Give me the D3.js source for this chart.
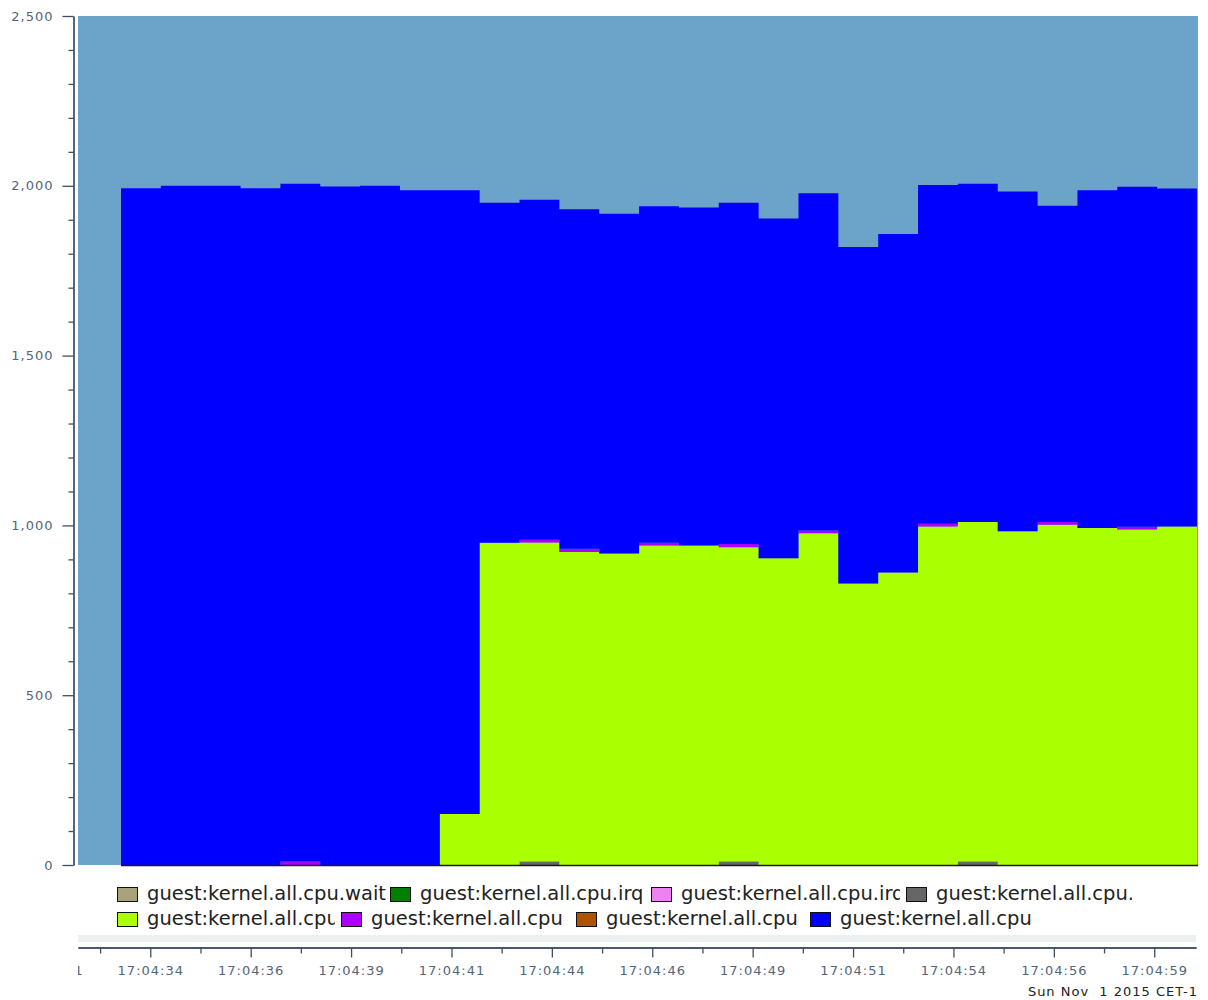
<!DOCTYPE html>
<html>
<head>
<meta charset="utf-8">
<script src="https://cdn.jsdelivr.net/npm/d3@7"></script>
<style>
  body { margin: 0; background: #fff; }
  svg { display: block; font-family: 'DejaVu Sans', sans-serif; }
</style>
</head>
<body>
<div class="canvas"></div>
<script>
// series values, one per 1s sample (27 samples)
const wait    = [0,0,0,0,0,0,0,0,0,0,0,0,0,0,0,0,0,0,0,0,0,0,0,0,0,0,0];
const irqHard = [0,0,0,0,0,0,0,0,0,0,0,0,0,0,0,0,0,0,0,0,0,0,0,0,0,0,0];
const irqSoft = [0,0,0,0,0,0,0,0,0,0,0,0,0,0,0,0,0,0,0,0,0,0,0,0,0,0,0];
const steal   = [0,0,0,0,0,0,0,0,0,0,10,0,0,0,0,10,0,0,0,0,0,10,0,0,0,0,0];
const user    = [0,0,0,0,0,0,0,0,150,949,940,922,917,941,941,926,903,977,829,861,997,1000,983,1002,992,988,997];
const sys     = [0,0,0,0,10,0,0,0,0,0,8,9,0,8,0,9,0,8,0,0,8,0,0,8,0,8,0];
const nice    = [0,0,0,0,0,0,0,0,0,0,0,0,0,0,0,0,0,0,0,0,0,0,0,0,0,0,0];
const idle    = [1993,2000,2000,1993,1996,1998,2000,1987,1837,1001,1001,1000,1001,991,995,1005,1001,993,991,997,997,996,1000,931,995,1001,995];

const seriesKeys = ['wait', 'irqHard', 'irqSoft', 'steal', 'user', 'sys', 'nice', 'idle'];
const seriesNames = [
  'guest:kernel.all.cpu.wait.total', 'guest:kernel.all.cpu.irq.hard',
  'guest:kernel.all.cpu.irq.soft', 'guest:kernel.all.cpu.steal',
  'guest:kernel.all.cpu.user', 'guest:kernel.all.cpu.sys',
  'guest:kernel.all.cpu.nice', 'guest:kernel.all.cpu.idle'
];
const seriesColors = ['#a8a37a', '#007f00', '#ee82ee', '#666666', '#aaff00', '#aa00ff', '#aa5500', '#0000ff'];

// y ticks
const yMajor = [0, 500, 1000, 1500, 2000, 2500];
const yMinor = [100,200,300,400,600,700,800,900,1100,1200,1300,1400,1600,1700,1800,1900,2100,2200,2300,2400];

// time axis (seconds past 17:04:00)
const timeTickSecs = [31.9, 34.4, 36.9, 39.4, 41.9, 44.4, 46.9, 49.4, 51.9, 54.4, 56.9, 59.4];
const timeLabels = ['17:04:31', '17:04:34', '17:04:36', '17:04:39', '17:04:41', '17:04:44',
  '17:04:46', '17:04:49', '17:04:51', '17:04:54', '17:04:56', '17:04:59'];
const timeMinorSecs = [33.15, 35.65, 38.15, 40.65, 43.15, 45.65, 48.15, 50.65, 53.15, 55.65, 58.15];
const dateLabel = 'Sun Nov  1 2015 CET-1';

// svg
const svg = d3.select('.canvas')
  .append('svg')
    .attr('width', 1208)
    .attr('height', 1000);

const plot = {left: 78, right: 1198, top: 16, bottom: 865};

const y = d3.scaleLinear()
  .domain([0, 2500])
  .range([plot.bottom, plot.top]);

// sample index -> px
const x = d3.scaleLinear()
  .domain([0, 27])
  .range([121, 1197]);

svg.append('clipPath').attr('id', 'plotClip')
  .append('rect')
    .attr('x', plot.left).attr('y', plot.top)
    .attr('width', plot.right - plot.left).attr('height', plot.bottom - plot.top);

// background
svg.append('rect')
  .attr('x', plot.left).attr('y', plot.top)
  .attr('width', plot.right - plot.left).attr('height', plot.bottom - plot.top)
  .attr('fill', '#6ca3c9');

// build rows for stacking (repeat last row so the final step has width)
const cols = {wait, irqHard, irqSoft, steal, user, sys, nice, idle};
const rows = idle.map((_, i) => {
  const r = {};
  seriesKeys.forEach(k => r[k] = cols[k][i]);
  return r;
});
rows.push(rows[rows.length - 1]);

const stacked = d3.stack().keys(seriesKeys)(rows);

const area = d3.area()
  .x((d, i) => x(i))
  .y0(d => y(d[0]))
  .y1(d => y(d[1]))
  .curve(d3.curveStepAfter);

const graph = svg.append('g').attr('clip-path', 'url(#plotClip)');

graph.selectAll('path.layer')
  .data(stacked)
  .enter()
  .append('path')
    .attr('class', 'layer')
    .attr('fill', (d, i) => seriesColors[i])
    .attr('d', area);

// baseline under the data
svg.append('line')
  .attr('x1', x(0)).attr('x2', plot.right)
  .attr('y1', plot.bottom + 0.5).attr('y2', plot.bottom + 0.5)
  .attr('stroke', '#1a1a1a')
  .attr('stroke-width', 1.5);

// y axis
const axisColor = '#3f4f60';
const labelColor = '#53657a';

const yAxisMinor = d3.axisLeft(y).tickValues(yMinor).tickSize(5).tickSizeOuter(0).tickFormat('');
const yAxisMajor = d3.axisLeft(y).tickValues(yMajor).tickSize(11).tickSizeOuter(0).tickPadding(9)
  .tickFormat(d3.format(','));

const yMinorGroup = svg.append('g').attr('transform', 'translate(73.5, 0)').call(yAxisMinor);
const yMajorGroup = svg.append('g').attr('transform', 'translate(73.5, 0)').call(yAxisMajor);

[yMinorGroup, yMajorGroup].forEach(g => {
  g.selectAll('path.domain').attr('stroke', axisColor).attr('stroke-width', 1.3);
  g.selectAll('line').attr('stroke', axisColor).attr('stroke-width', 1.3);
});
yMajorGroup.selectAll('text')
  .attr('fill', labelColor)
  .style('font-size', '13px')
  .style('letter-spacing', '1px')
  .style('font-family', "'DejaVu Sans', sans-serif");

// legend
const legendPos = [
  {x: 117, row: 0, clip: 269}, {x: 390, row: 0, clip: 255}, {x: 651, row: 0, clip: 249}, {x: 906, row: 0, clip: 226},
  {x: 117, row: 1, clip: 218}, {x: 341, row: 1, clip: 222}, {x: 576, row: 1, clip: 221}, {x: 810, row: 1, clip: 222}
];

const legend = svg.append('g');
seriesNames.forEach((name, i) => {
  const p = legendPos[i];
  const yy = 887 + p.row * 25;
  legend.append('clipPath').attr('id', 'lc' + i)
    .append('rect')
      .attr('x', p.x).attr('y', yy - 8)
      .attr('width', p.clip).attr('height', 30);
  const item = legend.append('g').attr('clip-path', `url(#lc${i})`);
  item.append('rect')
    .attr('x', p.x + 0.5).attr('y', yy + 0.5)
    .attr('width', 20).attr('height', 14)
    .attr('fill', seriesColors[i])
    .attr('stroke', '#111')
    .attr('stroke-width', 1);
  item.append('text')
    .attr('x', p.x + 30)
    .attr('y', yy + 13)
    .attr('fill', '#222')
    .style('font-size', '19.5px')
    .text(name);
});

// separator band
svg.append('rect')
  .attr('x', plot.left).attr('y', 935)
  .attr('width', 1118).attr('height', 7)
  .attr('fill', '#edf0f0');

// time axis
const tx = d3.scaleLinear()
  .domain([32.6, 60.44])
  .range([78, 1196]);

// clip in the axis group's own coordinates
svg.append('clipPath').attr('id', 'timeClip')
  .append('rect').attr('x', 78).attr('y', -5).attr('width', 1125).attr('height', 45);

const timeMinor = d3.axisBottom(tx).tickValues(timeMinorSecs).tickSize(6).tickSizeOuter(0).tickFormat('');
const timeMajor = d3.axisBottom(tx).tickValues(timeTickSecs).tickSize(10).tickSizeOuter(0).tickPadding(8)
  .tickFormat((d, i) => timeLabels[i]);

const tMinorGroup = svg.append('g').attr('transform', 'translate(0, 947.5)').call(timeMinor);
const tMajorGroup = svg.append('g').attr('transform', 'translate(0, 947.5)')
  .attr('clip-path', 'url(#timeClip)')
  .call(timeMajor);

[tMinorGroup, tMajorGroup].forEach(g => {
  g.selectAll('path.domain').attr('stroke', axisColor).attr('stroke-width', 1.3);
  g.selectAll('line').attr('stroke', axisColor).attr('stroke-width', 1.3);
});
tMajorGroup.selectAll('text')
  .attr('fill', labelColor)
  .style('font-size', '13px')
  .style('letter-spacing', '1px')
  .style('font-family', "'DejaVu Sans', sans-serif");

svg.append('text')
  .attr('x', 1198)
  .attr('y', 996)
  .attr('text-anchor', 'end')
  .attr('fill', '#222')
  .style('font-size', '13px')
  .style('letter-spacing', '1px')
  .style('white-space', 'pre')
  .text(dateLabel);
</script>
</body>
</html>
